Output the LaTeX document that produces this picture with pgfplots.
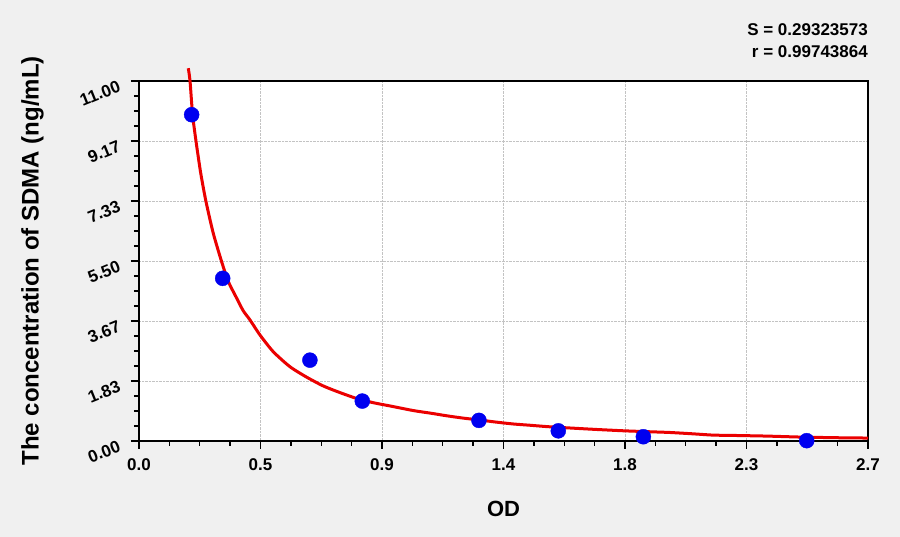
\documentclass[border=0pt]{standalone}
\usepackage{fontspec}
\setmainfont{Liberation Sans}
\usepackage{pgfplots}
\pgfplotsset{compat=1.18}

\definecolor{bggray}{RGB}{240,240,240}
\definecolor{gridgray}{RGB}{195,195,195}
\definecolor{ptblue}{RGB}{0,0,240}
\definecolor{fitred}{RGB}{235,0,0}

\begin{document}
\begin{tikzpicture}
  % page background (900 x 537 px, 1pt = 1px)
  \fill[bggray] (-139pt,-96pt) rectangle (761pt,441pt);
  \begin{axis}[
    scale only axis,
    width=729pt, height=360pt,
    at={(0pt,0pt)}, anchor=south west,
    xmin=0, xmax=2.7,
    ymin=0, ymax=11,
    clip=false,
    axis background/.style={fill=white},
    axis line style={black, line width=1.7pt},
    xtick={0,0.45,0.9,1.35,1.8,2.25,2.7},
    xticklabels={0.0,0.5,0.9,1.4,1.8,2.3,2.7},
    minor xtick={0.1125,0.225,0.3375,0.5625,0.675,0.7875,1.0125,1.125,1.2375,1.4625,1.575,1.6875,1.9125,2.025,2.1375,2.3625,2.475,2.5875},
    ytick={0,1.83333,3.66667,5.5,7.33333,9.16667,11},
    yticklabels={0.00,1.83,3.67,5.50,7.33,9.17,11.00},
    minor ytick={0.45833,0.91667,1.375,2.29167,2.75,3.20833,4.125,4.58333,5.04167,5.95833,6.41667,6.875,7.79167,8.25,8.70833,9.625,10.08333,10.54167},
    xtick pos=left, ytick pos=left,
    tick align=outside,
    major tick length=8pt, minor tick length=5pt,
    every tick/.style={black, line width=1.4pt},
    grid=major,
    major grid style={gridgray, densely dotted, line width=0.8pt},
    xticklabel style={font=\bfseries\fontsize{17}{17}\selectfont, yshift=-6pt},
    yticklabel style={font=\bfseries\fontsize{17}{17}\selectfont, rotate=22, anchor=east, xshift=-9pt},
    xlabel={OD},
    ylabel={The concentration of SDMA (ng/mL)},
    xlabel style={font=\bfseries\fontsize{22}{22}\selectfont, at={(axis description cs:0.5,-0.189)}, anchor=center},
    ylabel style={font=\bfseries\fontsize{24}{24}\selectfont, at={(axis description cs:-0.146,0.5)}, anchor=center, rotate=0},
  ]
    % fitted curve
    \addplot[fitred, line width=3pt, no markers, smooth, tension=0.4, line join=round] coordinates {
      (0.1826,11.39) (0.189,11.0) (0.1985,9.97) (0.211,9.17) (0.2285,8.19)
      (0.248,7.32) (0.275,6.35) (0.306,5.48) (0.331,4.87) (0.362,4.36)
      (0.386,3.98) (0.411,3.70) (0.448,3.24) (0.497,2.73) (0.559,2.27)
      (0.621,1.95) (0.683,1.68) (0.744,1.48) (0.806,1.30) (0.868,1.17)
      (0.93,1.07) (1.016,0.93) (1.08,0.85) (1.14,0.77) (1.20,0.70)
      (1.263,0.64) (1.32,0.58) (1.386,0.52) (1.45,0.48) (1.51,0.44)
      (1.57,0.41) (1.633,0.38) (1.70,0.35) (1.80,0.31) (1.90,0.28)
      (1.967,0.26) (2.05,0.22) (2.126,0.18) (2.20,0.17) (2.325,0.15)
      (2.45,0.12) (2.584,0.10) (2.70,0.09)
    };
    % standards
    \addplot[only marks, mark=*, mark size=7.5pt, ptblue, mark options={draw=ptblue, fill=ptblue}] coordinates {
      (0.195,9.97) (0.31,4.97) (0.633,2.47) (0.827,1.22)
      (1.259,0.63) (1.553,0.31) (1.868,0.13) (2.473,0.01)
    };
    \node[anchor=east, font=\bfseries\fontsize{17}{17}\selectfont, inner sep=0pt]
      at (axis description cs:1,1.1417) {S = 0.29323573};
    \node[anchor=east, font=\bfseries\fontsize{17}{17}\selectfont, inner sep=0pt]
      at (axis description cs:1,1.0806) {r = 0.99743864};
  \end{axis}
  \pgfresetboundingbox
  \useasboundingbox (-139pt,-96pt) rectangle (761pt,441pt);
\end{tikzpicture}
\end{document}
